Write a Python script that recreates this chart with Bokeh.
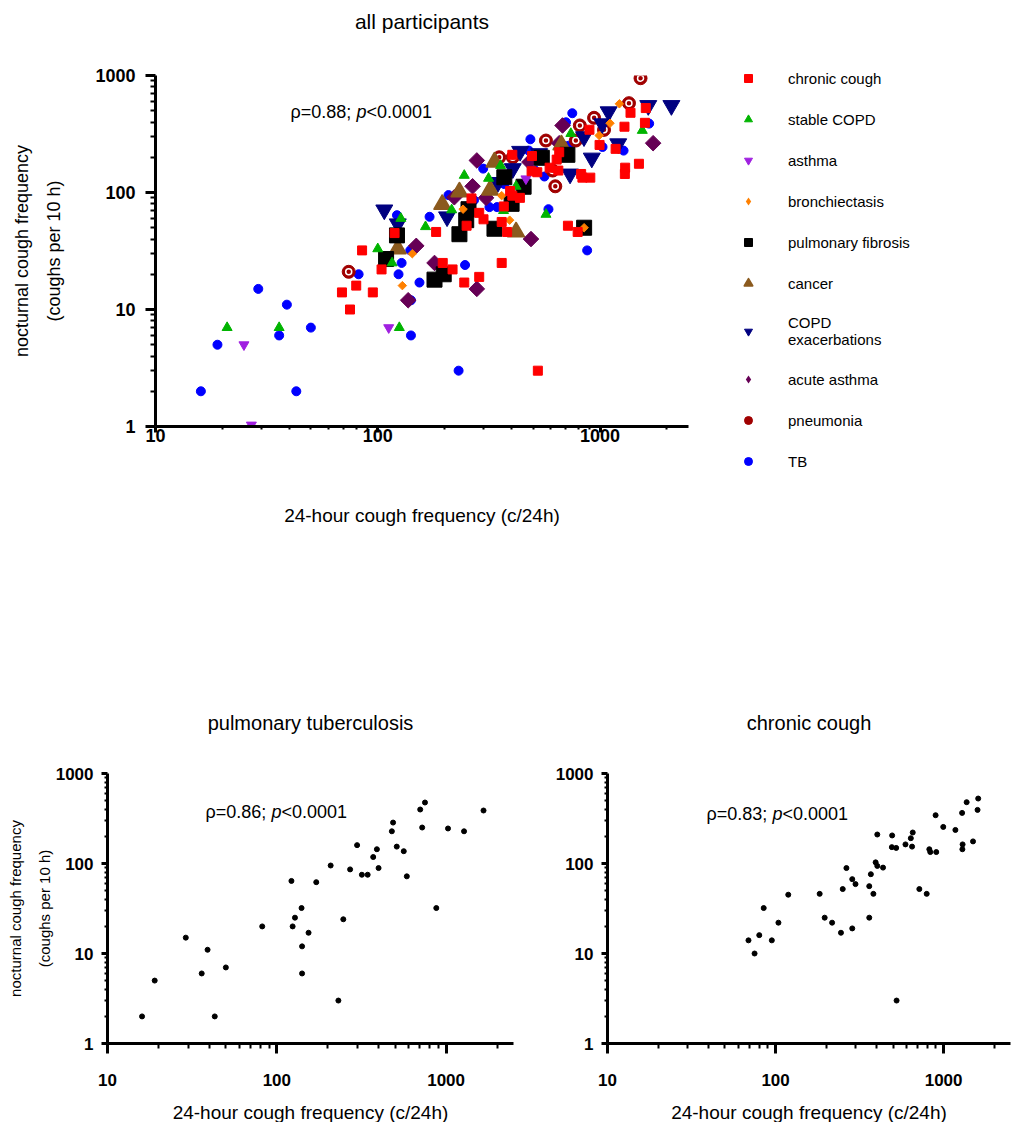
import math
from bokeh.plotting import figure
from bokeh.layouts import column, row
from bokeh.models import (Range1d, FixedTicker, PrintfTickFormatter, Legend, LegendItem, Label,
                          LogAxis)
from bokeh.embed import file_html
from bokeh.resources import INLINE

FONT = "Liberation Sans"

# ---------------- data ----------------
chronic_x = [69, 75, 80, 85, 95, 104, 119, 183, 196, 217, 245, 251, 264, 286, 286, 299, 361, 361, 369, 382,
             394, 403, 403, 436, 494, 492, 522, 525, 593, 638, 649, 655, 717, 793, 822, 833, 904, 896, 995,
             1175, 1288, 1297, 1293, 1371, 1496, 1592, 1606]
chronic_y = [14, 10, 16, 32, 14, 22, 45, 46, 25, 22, 17, 52, 89, 67, 19, 59, 56, 25, 76, 46,
             103, 210, 94, 90, 205, 152, 149, 3, 163, 191, 154, 221, 52, 46, 144, 134, 134, 344, 255,
             236, 365, 163, 144, 480, 176, 394, 527]

copd_x = [21, 36, 125, 100, 116, 127, 164, 215, 245, 315, 357, 368, 419, 571, 739, 1549]
copd_y = [7, 7, 7, 33, 25, 60, 51, 71, 140, 132, 170, 70, 113, 65, 319, 339]

asthma_x = [25, 27, 112, 464]
asthma_y = [5, 1.03, 7, 131]

bronch_x = [129, 143, 242, 361, 392, 848, 991, 1109, 1222]
bronch_y = [16, 30, 72, 94, 58, 50, 307, 391, 573]

fibrosis_x = [109, 122, 180, 198, 233, 250, 256, 335, 371, 400, 453, 547, 713, 848]
fibrosis_y = [27, 43, 18, 20, 44, 58, 72, 49, 135, 80, 112, 198, 210, 50]

cancer_x = [123, 195, 233, 320, 335, 419, 670]
cancer_y = [33, 79, 101, 105, 182, 46, 255]

exac_x = [107, 123, 205, 347, 405, 437, 532, 733, 847, 918, 1023, 1093, 1207, 1648, 2094]
exac_y = [71, 54, 62, 122, 160, 225, 215, 144, 300, 197, 387, 490, 261, 554, 554]

acute_x = [137, 149, 180, 279, 489, 221, 267, 279, 307, 481, 655, 678, 1733]
acute_y = [12, 35, 25, 15, 40, 91, 113, 188, 90, 182, 264, 374, 264]

pneu_x = [74, 352, 405, 571, 612, 629, 778, 811, 940, 1042, 1349, 1521]
pneu_y = [21, 200, 200, 278, 154, 113, 278, 374, 435, 343, 580, 948]

tb_x = [16, 19, 29, 36, 39, 43, 50, 82, 122, 124, 128, 140, 141, 141, 154, 171, 208, 231, 247, 271,
        298, 318, 344, 371, 390, 399, 478, 486, 511, 562, 586, 703, 750, 722, 875, 1026, 1276, 1663]
tb_y = [2, 5, 15, 6, 11, 2, 7, 20, 64, 20, 25, 32, 12, 6, 17, 62, 95, 3, 24, 86,
        160, 75, 75, 118, 144, 89, 228, 285, 154, 137, 72, 398, 476, 251, 32, 245, 228, 388]

legend_labels = ["chronic cough", "stable COPD", "asthma", "bronchiectasis", "pulmonary fibrosis",
                 "cancer", "COPD\nexacerbations", "acute asthma", "pneumonia", "TB"]
series_data = [(chronic_x, chronic_y), (copd_x, copd_y), (asthma_x, asthma_y), (bronch_x, bronch_y),
               (fibrosis_x, fibrosis_y), (cancer_x, cancer_y), (exac_x, exac_y), (acute_x, acute_y),
               (pneu_x, pneu_y), (tb_x, tb_y)]

titles = ["all participants", "pulmonary tuberculosis", "chronic cough"]
stats_all = "ρ=0.88; "
stats_tb = "ρ=0.86; "
stats_cc = "ρ=0.83; "
p_text = "p"
p_value = "<0.0001"

x_label = "24-hour cough frequency (c/24h)"
y_label = "nocturnal cough frequency\n(coughs per 10 h)"

# ---------------- styles ----------------
styles = [
    dict(marker="square", color="#ff0000", size=9, angle=0.0),
    dict(marker="triangle", color="#00b400", size=10, angle=0.0),
    dict(marker="inverted_triangle", color="#a020e0", size=10, angle=0.0),
    dict(marker="square", color="#ff8000", size=6, angle=math.pi / 4),
    dict(marker="square", color="#000000", size=15, angle=0.0),
    dict(marker="triangle", color="#8b5a1e", size=16, angle=0.0),
    dict(marker="inverted_triangle", color="#000080", size=17, angle=0.0),
    dict(marker="square", color="#660055", size=11, angle=math.pi / 4),
    dict(marker="circle", color="#a00000", size=13, angle=0.0),
    dict(marker="circle", color="#0000ff", size=9, angle=0.0),
]

X_MAJOR = [10, 100, 1000]
X_MINOR = [m * 10 ** e for e in range(1, 4) for m in range(2, 10) if m * 10 ** e < 2500]
Y_MAJOR = [1, 10, 100, 1000]
Y_MINOR = [m * 10 ** e for e in range(0, 3) for m in range(2, 10)]


def make_fig(fw, fh, mb_left, mb_right, mb_top, mb_bottom):
    p = figure(frame_width=fw, frame_height=fh, x_axis_type="log", y_axis_type="log",
               x_range=Range1d(10, 2500), y_range=Range1d(1, 1000), title=None,
               output_backend="svg", toolbar_location=None,
               min_border_left=mb_left, min_border_right=mb_right,
               min_border_top=mb_top, min_border_bottom=mb_bottom)
    p.outline_line_color = None
    p.xgrid.visible = False
    p.ygrid.visible = False
    p.background_fill_color = "white"
    p.border_fill_color = "white"
    return p, p.below[0], p.left[0]


def style_axis(ax, major, minor, tick_out, minor_out, tick_size, label_size, standoff, label_standoff,
               line_height=1.2):
    ax.ticker = FixedTicker(ticks=major, minor_ticks=minor)
    ax.formatter = PrintfTickFormatter(format="%d")
    ax.axis_line_width = 3
    ax.axis_line_color = "black"
    ax.major_tick_line_width = 3
    ax.minor_tick_line_width = 2
    ax.major_tick_line_color = "black"
    ax.minor_tick_line_color = "black"
    ax.major_tick_out = tick_out
    ax.major_tick_in = 0
    ax.minor_tick_out = minor_out
    ax.minor_tick_in = 0
    ax.major_label_text_font = FONT
    ax.major_label_text_font_style = "bold"
    ax.major_label_text_font_size = tick_size
    ax.major_label_text_color = "black"
    ax.major_label_standoff = standoff
    ax.axis_label_text_font = FONT
    ax.axis_label_text_font_style = "normal"
    ax.axis_label_text_font_size = label_size
    ax.axis_label_text_color = "black"
    ax.axis_label_standoff = label_standoff
    ax.axis_label_text_line_height = line_height


def add_title(p, text, size, standoff):
    # chart title drawn as the label of an empty axis above the frame
    t = LogAxis(ticker=FixedTicker(ticks=[]), axis_line_color=None,
                major_tick_line_color=None, minor_tick_line_color=None,
                major_tick_out=0, minor_tick_out=0, major_label_standoff=0,
                axis_label=text, axis_label_standoff=standoff,
                axis_label_text_font=FONT, axis_label_text_font_size=size,
                axis_label_text_font_style="normal", axis_label_text_color="black")
    p.add_layout(t, "above")


def add_stats(p, x, y, first, size):
    w1 = 3.664 * size
    wp = 0.556 * size
    common = dict(x=x, y=y, text_baseline="middle", text_font=FONT, text_font_size=f"{size}px",
                  text_color="black")
    p.add_layout(Label(text=first, **common))
    p.add_layout(Label(text=p_text, x_offset=w1, text_font_style="italic", **common))
    p.add_layout(Label(text=p_value, x_offset=w1 + wp, **common))


# ---------------- top chart ----------------
top, top_x, top_y = make_fig(533, 351, 155, 300, 75, 114)
style_axis(top_x, X_MAJOR, X_MINOR, 6, 3, "18px", "19px", -4, 60)
top_x.axis_label = x_label
style_axis(top_y, Y_MAJOR, Y_MINOR, 10, 5, "18px", "18px", 10, 28, 1.6)
top_y.axis_label = y_label
add_title(top, titles[0], "21px", 43)

legend_renderers = [None] * len(styles)
for i in reversed(range(len(styles))):
    xs, ys = series_data[i]
    st = styles[i]
    lw = 2 if i == 5 else 1
    r = top.scatter(xs, ys, marker=st["marker"], size=st["size"], angle=st["angle"],
                    fill_color=st["color"], line_color=st["color"], line_width=lw, line_join="round")
    legend_renderers[i] = r
    if st["angle"] != 0.0:
        # legend swatch for the rotated-square (diamond) series
        legend_renderers[i] = top.scatter(xs, ys, marker="diamond", size=0, fill_color=st["color"],
                                          line_color=None)
    if legend_labels[i] == "pneumonia":
        top.scatter(xs, ys, marker="circle", size=6, fill_color=None, line_color="white", line_width=1.5)

add_stats(top, 40.5, 483, stats_all, 18)

items = [LegendItem(label=legend_labels[i], renderers=[legend_renderers[i]]) for i in range(len(styles))]
legend = Legend(items=items, location=(48, -45), orientation="vertical",
                border_line_color=None, background_fill_alpha=0.0, padding=0, margin=0,
                spacing=21, label_standoff=28, glyph_width=24, glyph_height=20, label_height=20,
                label_text_font=FONT, label_text_font_size="15px", label_text_color="black")
top.add_layout(legend, "right")

# ---------------- bottom charts ----------------
bl, bl_x, bl_y = make_fig(406, 270, 107, 20, 233, 78)
style_axis(bl_x, X_MAJOR, X_MINOR, 10, 5, "17px", "19px", 20, 13)
bl_x.axis_label = x_label
style_axis(bl_y, Y_MAJOR, Y_MINOR, 6, 3, "17px", "15px", 8, 0, 1.7)
bl_y.axis_label = y_label
add_title(bl, titles[1], "20px", 40)
bl.scatter(tb_x, tb_y, marker="circle", size=5, fill_color="black", line_color="black")
add_stats(bl, 37.9, 369, stats_tb, 18)

br, br_x, br_y = make_fig(403, 270, 74, 4, 233, 78)
style_axis(br_x, X_MAJOR, X_MINOR, 10, 5, "17px", "19px", 20, 13)
br_x.axis_label = x_label
style_axis(br_y, Y_MAJOR, Y_MINOR, 6, 3, "17px", "15px", 8, 0)
add_title(br, titles[2], "20px", 40)
br.scatter(chronic_x, chronic_y, marker="circle", size=5, fill_color="black", line_color="black")
add_stats(br, 38.8, 359, stats_cc, 18)

layout = column(top, row(bl, br, spacing=0), spacing=0)
open("out.html", "w").write(file_html(layout, INLINE))
